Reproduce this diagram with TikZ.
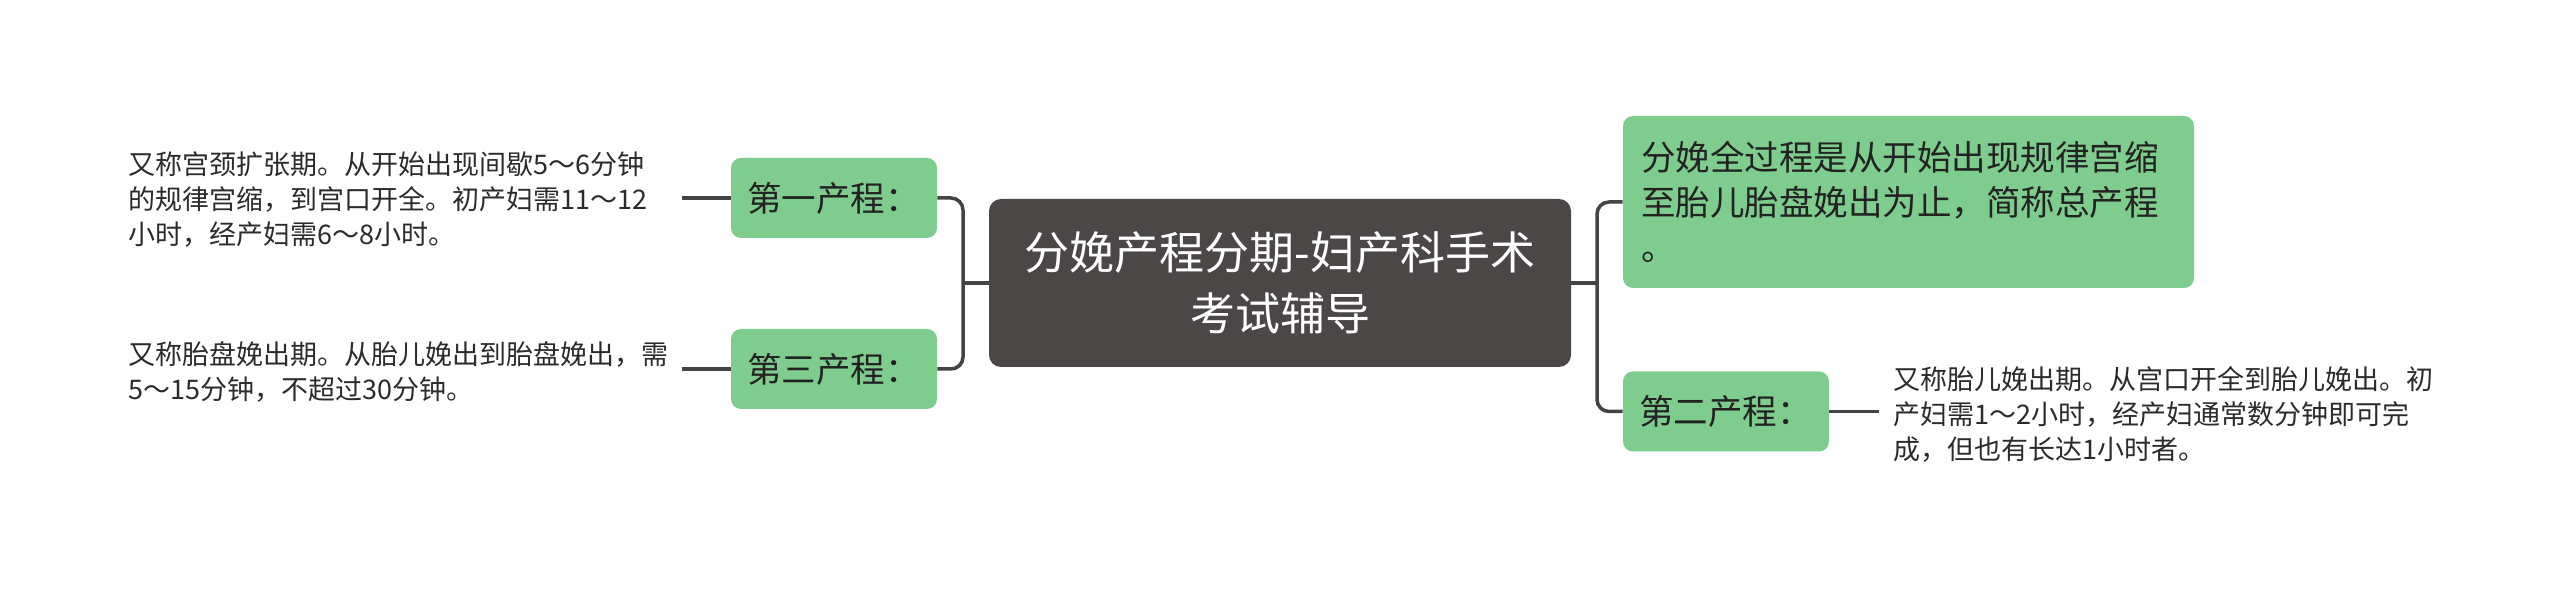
\documentclass[tikz,border=0pt]{standalone}
\usepackage{fontspec}
\setmainfont{Noto Sans CJK SC}
\definecolor{greenc}{HTML}{7FCC8F}
\definecolor{centc}{HTML}{4B4747}
\definecolor{connc}{HTML}{444444}
\definecolor{txtc}{HTML}{222222}
\definecolor{leafc}{HTML}{2B2B2B}
\begin{document}
\begin{tikzpicture}[x=0.5pt,y=-0.5pt,
  conn/.style={draw=connc, line width=1.75pt, rounded corners=6pt},
  gbox/.style={fill=greenc, rounded corners=5pt, inner ysep=0pt, text=txtc, align=left,
    font=\fontsize{17.25pt}{22.5pt}\selectfont},
  stagebox/.style={gbox, minimum width=103pt, minimum height=40pt, inner xsep=8pt, text width=87pt},
  leaf/.style={inner sep=0pt, align=left, text=leafc, font=\fontsize{13.5pt}{17.5pt}\selectfont},
  central/.style={fill=centc, rounded corners=6pt, minimum width=291pt, minimum height=84pt,
    text=white, align=center, font=\fontsize{22.5pt}{30.5pt}\selectfont}
]
\fill[white] (0,0) rectangle (2560,592);
\useasboundingbox (0,0) rectangle (2560,592);

\node[central] (M) at (1280,283) {分娩产程分期-妇产科手术\\考试辅导};

\node[stagebox] (A) at (834,198) {第一产程：};
\node[stagebox] (C) at (834,369) {第三产程：};
\node[stagebox] (B) at (1726,411.5) {第二产程：};
\node[gbox, minimum width=285.5pt, minimum height=86pt, inner xsep=9pt, text width=267.5pt] (T) at (1908.5,202)
  {分娩全过程是从开始出现规律宫缩\\至胎儿胎盘娩出为止，简称总产程\\。};

\node[leaf, anchor=west, text width=276.5pt] (L1) at (128,200)
  {又称宫颈扩张期。从开始出现间歇5～6分钟\\的规律宫缩，到宫口开全。初产妇需11～12\\小时，经产妇需6～8小时。};
\node[leaf, anchor=west, text width=276.5pt] (L2) at (128,372)
  {又称胎盘娩出期。从胎儿娩出到胎盘娩出，需\\5～15分钟，不超过30分钟。};
\node[leaf, anchor=west, inner xsep=7pt, text width=280pt] (R) at (1879,414)
  {又称胎儿娩出期。从宫口开全到胎儿娩出。初\\产妇需1～2小时，经产妇通常数分钟即可完\\成，但也有长达1小时者。};

\coordinate (lbar) at (963,283);
\coordinate (rbar) at (1597,283);

\draw[conn] (A.east) -- (A.east -| lbar) -- (C.east -| lbar) -- (C.east);
\draw[conn] (M.west) -- (lbar);
\draw[conn] (T.west) -- (T.west -| rbar) -- (B.west -| rbar) -- (B.west);
\draw[conn] (M.east) -- (rbar);

\draw[conn] (A.west) -- (A.west -| L1.east);
\draw[conn] (C.west) -- (C.west -| L2.east);
\draw[conn] (B.east) -- (B.east -| R.west);
\end{tikzpicture}
\end{document}
